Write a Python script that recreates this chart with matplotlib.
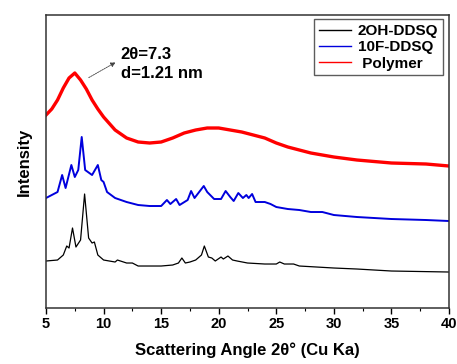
import matplotlib.pyplot as plt

plt.rcParams['font.family'] = ['Liberation Sans', 'DejaVu Sans']
plt.rcParams['font.weight'] = 'bold'

# Diffraction traces (2-theta in degrees, offset intensity in a.u.)
tt_oh = [5, 6, 6.5, 6.8, 7.0, 7.3, 7.6, 8.0, 8.35, 8.7, 9.0, 9.2, 9.5, 10, 11, 11.2, 12,
         12.5, 13, 15, 16, 16.5, 16.8, 17.1, 17.5, 18, 18.5, 18.75, 19.1, 19.4, 19.7, 20.2,
         20.4, 20.8, 21.2, 21.6, 22.5, 24, 25, 25.3, 25.7, 26.5, 27, 28.5, 30, 32, 35, 40]
i_oh = [47, 48, 53, 62, 60, 80, 61, 68, 114, 70, 65, 66, 53, 48, 46, 48, 45,
        45, 42, 42, 43, 45, 50, 45, 46, 48, 53, 62, 51, 50, 47, 51,
        49, 52, 48, 47, 45, 44, 44, 46, 44, 44, 42, 41, 40, 39, 37, 36]

tt_f = [5, 6, 6.4, 6.7, 7.2, 7.5, 7.8, 8.1, 8.4, 9.0, 9.5, 9.8, 10, 10.3, 11, 12, 13, 14,
        15, 15.5, 15.8, 16.3, 16.6, 17.3, 17.6, 17.9, 18.5, 18.7, 19, 19.6, 20.2, 20.6,
        21, 21.3, 21.7, 22.1, 22.4, 22.6, 22.9, 23.2, 24, 24.5, 25, 26, 27, 28, 29, 30,
        32, 35, 38, 40]
i_f = [110, 116, 133, 120, 143, 131, 138, 171, 138, 133, 143, 128, 126, 116, 110, 106, 103, 102,
       102, 108, 104, 109, 103, 108, 117, 110, 119, 122, 116, 109, 109, 117,
       111, 107, 115, 110, 113, 110, 114, 106, 106, 104, 101, 99, 98, 96, 96, 93,
       91, 89, 88, 87]

tt_poly = [5, 5.5, 6, 6.5, 7, 7.5, 8, 8.5, 9, 9.5, 10, 11, 12, 13, 14, 15, 16, 17, 18, 19,
           20, 21, 22, 23, 24, 25, 26, 27, 28, 30, 32, 35, 38, 40]
i_poly = [193, 199, 208, 220, 230, 235, 228, 219, 208, 199, 191, 178, 170, 166, 165, 166, 170,
          175, 178, 180, 180, 178, 176, 173, 170, 165, 161, 158, 155, 151, 148, 145, 144, 142]

labels = ['2OH-DDSQ', '10F-DDSQ', ' Polymer']

fig = plt.figure(figsize=(4.57, 3.64), dpi=100)
ax = fig.add_axes([0.1007, 0.1538, 0.8818, 0.805])

ax.plot(tt_oh, i_oh, color='black', lw=0.9, label=labels[0])
ax.plot(tt_f, i_f, color='#0000dd', lw=1.4, label=labels[1])
ax.plot(tt_poly, i_poly, color='#ff0000', lw=2.4, label=labels[2])

ax.set_xlim(5, 40)
ax.set_ylim(0, 293)
ax.set_xticks(range(5, 41, 5))
ax.set_xticks([7.5 + 5 * k for k in range(7)], minor=True)
ax.set_yticks([])
ax.tick_params(axis='x', which='major', direction='out', length=4.5, width=1,
               labelsize=10.5, pad=2)
ax.tick_params(axis='x', which='minor', direction='out', length=2.5, width=0.8)
for s in ax.spines.values():
    s.set_color('#333333')
    s.set_linewidth(1.1)

ax.set_xlabel('Scattering Angle 2θ° (Cu Ka)', fontsize=12, fontweight='bold', labelpad=8)
ax.set_ylabel('Intensity', fontsize=12, fontweight='bold', labelpad=10)

# peak annotation
ax.annotate('', xy=(11.25, 247), xytext=(8.5, 229),
            arrowprops=dict(arrowstyle='-|>', color='#444444', lw=0.6,
                            linestyle=(0, (2, 1)), mutation_scale=7))
ax.text(11.5, 261, '2θ=7.3\nd=1.21 nm', fontsize=12, fontweight='bold',
        va='top', ha='left', linespacing=1.3)

leg = ax.legend(loc='upper right', bbox_to_anchor=(0.988, 0.99), fontsize=11,
                frameon=True, fancybox=False, handlelength=2.1, handletextpad=0.45,
                borderpad=0.3, labelspacing=0.15, borderaxespad=0.1)
leg.get_frame().set_edgecolor('#333333')
leg.get_frame().set_linewidth(1.0)
for h in leg.get_lines():
    h.set_linewidth(1.0)

fig.savefig('out.png', dpi=100)
